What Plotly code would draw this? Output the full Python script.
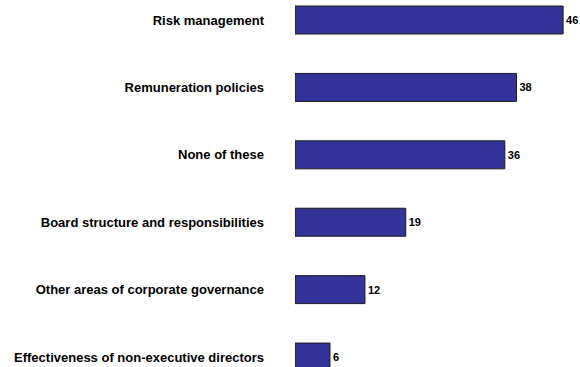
import plotly.graph_objects as go

categories = [
    "Risk management",
    "Remuneration policies",
    "None of these",
    "Board structure and responsibilities",
    "Other areas of corporate governance",
    "Effectiveness of non-executive directors",
]
values = [46, 38, 36, 19, 12, 6]

fig = go.Figure(
    go.Bar(
        x=values,
        y=list(range(len(categories))),
        orientation="h",
        width=0.415,
        marker=dict(color="#333399", line=dict(color="#1a1a1a", width=1)),
        text=[f"<b>{v}</b>" for v in values],
        textposition="outside",
        textfont=dict(family="Liberation Sans, Arial", size=11, color="black"),
        cliponaxis=True,
    )
)

fig.update_layout(
    width=580,
    height=367,
    margin=dict(l=295, r=0, t=0, b=0),
    paper_bgcolor="white",
    plot_bgcolor="white",
    showlegend=False,
    font=dict(family="Liberation Sans, Arial", color="black"),
)
fig.update_xaxes(range=[0, 48.9], visible=False)
fig.update_yaxes(
    range=[5.148, -0.297],
    tickmode="array",
    tickvals=list(range(len(categories))),
    ticktext=[f"<b>{c}</b>" for c in categories],
    tickfont=dict(family="Liberation Sans, Arial", size=13, color="black"),
    ticklabelstandoff=30,
    showgrid=False,
    zeroline=False,
    showline=False,
    ticks="",
)

fig.write_html("out.html")
